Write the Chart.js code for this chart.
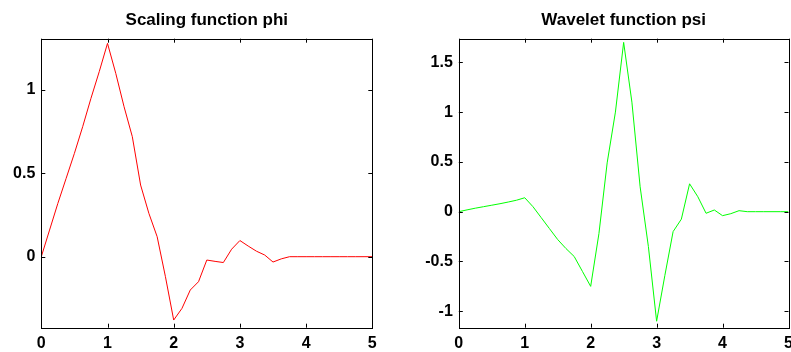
<!DOCTYPE html>
<html>
<head>
<meta charset="utf-8">
<script src="https://cdn.jsdelivr.net/npm/chart.js@4"></script>
<style>
    html, body { margin: 0; padding: 0; background: #fff; overflow: hidden; width: 791px; height: 352px; }
    .panel { position: absolute; top: 0; }
    #phiBox { left: 0; }
    #psiBox { left: 400px; }
</style>
</head>
<body>
<div class="panel" id="phiBox"><canvas id="phiChart" width="410" height="352"></canvas></div>
<div class="panel" id="psiBox"><canvas id="psiChart" width="430" height="352"></canvas></div>
<script>
// sample positions (eighths from 0 to 5)
const xs = [0, 0.125, 0.25, 0.375, 0.5, 0.625, 0.75, 0.875,
    1, 1.125, 1.25, 1.375, 1.5, 1.625, 1.75, 1.875,
    2, 2.125, 2.25, 2.375, 2.5, 2.625, 2.75, 2.875,
    3, 3.125, 3.25, 3.375, 3.5, 3.625, 3.75, 3.875,
    4, 4.125, 4.25, 4.375, 4.5, 4.625, 4.75, 4.875, 5];

// scaling function phi
const phi = [0, 0.16, 0.32, 0.47, 0.62, 0.78, 0.95, 1.11,
    1.28, 1.10, 0.90, 0.72, 0.43, 0.26, 0.12, -0.12,
    -0.38, -0.31, -0.20, -0.15, -0.02, -0.028, -0.035, 0.045,
    0.097, 0.064, 0.033, 0.01, -0.032, -0.013, 0, 0,
    0, 0, 0, 0, 0, 0, 0, 0, 0];

// wavelet function psi
const psi = [0, 0.018, 0.035, 0.05, 0.065, 0.08, 0.097, 0.115,
    0.14, 0.05, -0.06, -0.17, -0.28, -0.37, -0.45, -0.60,
    -0.75, -0.22, 0.49, 1.0, 1.70, 1.10, 0.25, -0.35,
    -1.10, -0.64, -0.20, -0.075, 0.28, 0.15, -0.016, 0.017,
    -0.04, -0.02, 0.01, 0, 0, 0, 0, 0, 0];

const xTicks = [0, 1, 2, 3, 4, 5];
const phiTicks = [0, 0.5, 1];
const psiTicks = [-1, -0.5, 0, 0.5, 1, 1.5];
const xRange = [0, 5];
const phiRange = [-0.426, 1.308];
const psiRange = [-1.165, 1.737];

const FONT = "'Liberation Sans', Arial, sans-serif";

// black frame with short inward tick marks on all four sides
const boxTicks = {
    id: 'boxTicks',
    afterDraw(chart) {
        const { ctx, chartArea: a, scales: { x, y } } = chart;
        ctx.save();
        ctx.strokeStyle = '#000';
        ctx.lineWidth = 1;
        ctx.beginPath();
        x.ticks.forEach(t => {
            const px = Math.round(x.getPixelForValue(t.value)) + 0.5;
            ctx.moveTo(px, a.bottom); ctx.lineTo(px, a.bottom - 4);
            ctx.moveTo(px, a.top); ctx.lineTo(px, a.top + 4);
        });
        y.ticks.forEach(t => {
            const py = Math.round(y.getPixelForValue(t.value)) + 0.5;
            ctx.moveTo(a.left, py); ctx.lineTo(a.left + 4, py);
            ctx.moveTo(a.right, py); ctx.lineTo(a.right - 4, py);
        });
        ctx.stroke();
        ctx.strokeRect(Math.round(a.left) + 0.5, Math.round(a.top) + 0.5,
            Math.round(a.right - a.left), Math.round(a.bottom - a.top));
        ctx.restore();
    }
};

function makeChart(id, title, values, color, yRange, yTicks, yAxisWidth, padRight) {
    const ctx = document.getElementById(id).getContext('2d');
    return new Chart(ctx, {
        type: 'line',
        data: {
            datasets: [{
                data: xs.map((x, i) => ({ x: x, y: values[i] })),
                borderColor: color,
                borderWidth: 1,
                pointRadius: 0,
                tension: 0,
                fill: false
            }]
        },
        options: {
            responsive: false,
            animation: false,
            layout: { padding: { left: 0, right: padRight, top: 0, bottom: 0 } },
            plugins: {
                legend: { display: false },
                tooltip: { enabled: false },
                title: {
                    display: true,
                    text: title,
                    fullSize: false,
                    color: '#000',
                    font: { family: FONT, size: 17, weight: 'bold', lineHeight: 1.2 },
                    padding: { top: 10, bottom: 8.3 }
                }
            },
            scales: {
                x: {
                    type: 'linear',
                    min: xRange[0],
                    max: xRange[1],
                    grid: { display: false, drawTicks: false },
                    border: { display: false },
                    afterBuildTicks: s => { s.ticks = xTicks.map(v => ({ value: v })); },
                    afterFit: s => { s.height = 24.3; },
                    ticks: {
                        padding: 6,
                        color: '#000',
                        maxRotation: 0,
                        font: { family: FONT, size: 16, weight: 'bold' },
                        callback: v => String(v)
                    }
                },
                y: {
                    min: yRange[0],
                    max: yRange[1],
                    grid: { display: false, drawTicks: false },
                    border: { display: false },
                    afterBuildTicks: s => { s.ticks = yTicks.map(v => ({ value: v })); },
                    afterFit: s => { s.width = yAxisWidth; },
                    ticks: {
                        padding: 6,
                        color: '#000',
                        font: { family: FONT, size: 16, weight: 'bold' },
                        callback: v => String(v)
                    }
                }
            }
        },
        plugins: [boxTicks]
    });
}

makeChart('phiChart', 'Scaling function phi', phi, '#ff0000', phiRange, phiTicks, 41.3, 37.7);
makeChart('psiChart', 'Wavelet function psi', psi, '#00ff00', psiRange, psiTicks, 58.8, 41.5);
</script>
</body>
</html>
